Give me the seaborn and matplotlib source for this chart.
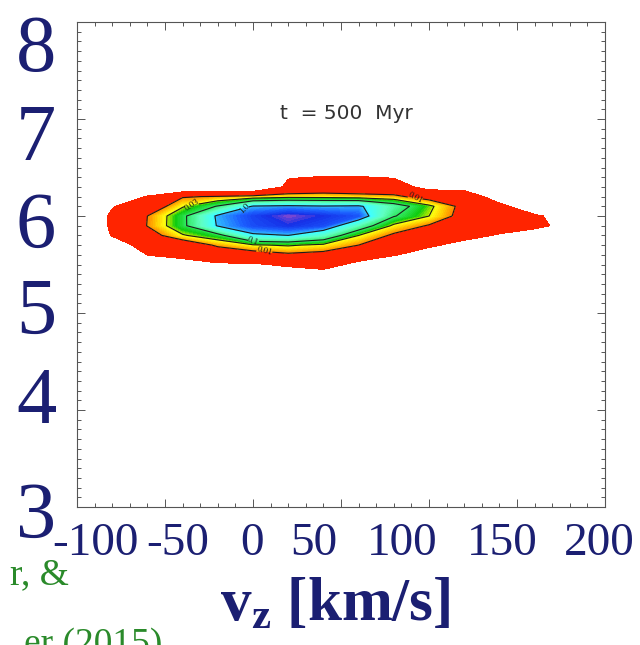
import numpy as np
import matplotlib
matplotlib.use("Agg")
import matplotlib.pyplot as plt
from matplotlib.colors import LinearSegmentedColormap
from matplotlib.ticker import MultipleLocator
from matplotlib.transforms import ScaledTranslation
import seaborn as sns

# ---- data -------------------------------------------------------------
vz_grid = [-100, -80, -60, -40, -20, 0, 20, 40, 60, 80, 100, 120, 140, 160, 180]
logr_grid = [5.3, 5.4, 5.5, 5.6, 5.7, 5.8, 5.9, 6.0, 6.1, 6.2, 6.3, 6.4, 6.5]

# log10 of the normalised density, one row per logr_grid value (bottom -> top),
# one column per vz_grid value
log_density = [
    [-4, -4, -4, -4, -4, -4, -4, -4, -4, -4, -4, -4, -4, -4, -4],
    [-4, -4, -4, -4, -4, -4, -3.5, -3.3, -4, -4, -4, -4, -4, -4, -4],
    [-4, -4, -3.5, -3.3, -3.1, -3.1, -2.85, -2.7, -3.2, -3.5, -4, -4, -4, -4, -4],
    [-4, -4, -2.98, -2.8, -2.5, -2.3, -2.1, -2.2, -2.6, -2.95, -3.3, -4, -4, -4, -4],
    [-4, -3.5, -2.6, -2.5, -1.9, -1.57, -1.47, -1.62, -2.0, -2.6, -2.9, -3.2, -4, -4, -4],
    [-4, -2.95, -2.3, -1.57, -1.2, -0.1, 0.0, -0.48, -1.52, -2.1, -2.6, -2.8, -3.05, -3.3, -4],
    [-4, -2.85, -1.98, -1.14, 0.05, 0.45, 0.6, 0.45, -0.58, -1.62, -2.05, -2.5, -2.75, -2.85, -3.2],
    [-4, -2.85, -2.0, -1.14, 0.1, 0.5, 0.75, 0.6, 0.4, -0.96, -1.52, -2.25, -2.7, -2.9, -3.3],
    [-4, -3.05, -2.5, -1.57, -0.96, 0.05, 0.12, 0.05, 0.1, -0.67, -1.41, -2.2, -2.8, -3.5, -4],
    [-4, -3.6, -2.95, -2.05, -1.95, -1.81, -1.67, -1.69, -1.76, -1.86, -2.3, -2.5, -3.4, -4, -4],
    [-4, -4, -3.8, -4, -4, -4, -2.8, -2.55, -2.6, -2.6, -3.3, -3.3, -4, -4, -4],
    [-4, -4, -4, -4, -4, -4, -3.05, -2.95, -2.95, -3.05, -4, -4, -4, -4, -4],
    [-4, -4, -4, -4, -4, -4, -4, -4, -4, -4, -4, -4, -4, -4, -4],
]

contour_levels = [0.01, 0.03, 0.1, 1.0]
contour_labels = ["0.01", "0.03", "0.1", "1.0"]
floor_level = 0.001

x_ticks = [-100, -50, 0, 50, 100, 150, 200]
y_ticks = [3, 4, 5, 6, 7, 8]
snapshot_text = "t  = 500  Myr"

# ---- style ------------------------------------------------------------
sns.set_theme(style="ticks")
plt.rcParams["font.family"] = ["Liberation Serif", "DejaVu Serif"]
plt.rcParams["axes.unicode_minus"] = False
plt.rcParams["mathtext.fontset"] = "custom"
plt.rcParams["mathtext.rm"] = "Liberation Serif"
plt.rcParams["mathtext.bf"] = "Liberation Serif:bold"
plt.rcParams["mathtext.it"] = "Liberation Serif:italic"

navy = "#1b1f72"
green = "#2a8a2a"

vmin, vmax = -2.0, 0.8
anchors = [
    (-2.0, "#ff7e00"), (-1.78, "#ffc400"), (-1.56, "#ffff10"),
    (-1.46, "#9ee600"), (-1.30, "#10cc10"), (-1.0, "#30e860"),
    (-0.5, "#60ffc0"), (-0.05, "#40ffff"), (0.05, "#30bcff"),
    (0.35, "#1c60ff"), (0.62, "#1530e8"), (0.8, "#a050c8"),
]
rainbow = LinearSegmentedColormap.from_list(
    "density", [((v - vmin) / (vmax - vmin), c) for v, c in anchors])

fill_levels = np.r_[np.log10(floor_level), np.linspace(vmin, vmax, 70)]
mids = 0.5 * (fill_levels[1:] + fill_levels[:-1])
fill_colors = ["#ff2400"] + [rainbow((m - vmin) / (vmax - vmin)) for m in mids[1:]]

# ---- figure -----------------------------------------------------------
fig = plt.figure(figsize=(6.40, 6.45), dpi=100)
ax = fig.add_axes([77 / 640, 1 - 507 / 645, 528 / 640, 485 / 645])
ax.set_facecolor("white")

VZ, LR = np.meshgrid(vz_grid, logr_grid)
Z = np.array(log_density)

ax.contourf(VZ, LR, Z, levels=fill_levels, colors=fill_colors,
            antialiased=False)
lines = ax.contour(VZ, LR, Z, levels=np.log10(contour_levels),
                   colors="#1c1c1c", linewidths=0.8, linestyles="solid")
fmt = {lev: lab for lev, lab in zip(lines.levels, contour_labels)}
ax.clabel(lines, fmt=fmt, fontsize=6.5, inline=True, inline_spacing=1,
          manual=[(96, 6.22), (-36, 6.12), (-9, 6.10), (-1, 5.73), (8, 5.66)])

ax.set_xlim(-100, 200)
ax.set_ylim(3, 8)
ax.set_xticks(x_ticks)
ax.set_yticks(y_ticks)
ax.xaxis.set_minor_locator(MultipleLocator(10))
ax.yaxis.set_minor_locator(MultipleLocator(0.1))
ax.tick_params(which="both", direction="in", top=True, right=True,
               color="#555555", width=0.7)
ax.tick_params(which="major", length=6)
ax.tick_params(which="minor", length=3)
ax.tick_params(axis="x", which="major", pad=11, labelsize=34, labelcolor=navy)
ax.tick_params(axis="y", which="major", pad=15, labelsize=58, labelcolor=navy)
for side in ax.spines.values():
    side.set_color("#555555")
    side.set_linewidth(0.8)

# nudge the large tick labels the way they sit on the slide
x_shift_px = [18, 13, -1, -27, -27, -15, -6]
y_shift_px = [3, -15, -7, 4, 13, 21]
for lab, dx in zip(ax.get_xticklabels(), x_shift_px):
    lab.set_transform(lab.get_transform()
                      + ScaledTranslation(dx / 100, 0, fig.dpi_scale_trans))
for lab, dy in zip(ax.get_yticklabels(), y_shift_px):
    lab.set_transform(lab.get_transform()
                      + ScaledTranslation(0, -dy / 100, fig.dpi_scale_trans))

ax.set_xlabel(r"$\mathbf{v_z}$ [km/s]", fontsize=44, fontweight="bold",
              color=navy)
ax.xaxis.set_label_coords(0.49, -0.145)
ax.set_ylabel("")

ax.text(0.510, 0.812, snapshot_text, transform=ax.transAxes,
        ha="center", va="center", fontsize=14.5, color="#333333",
        family="DejaVu Sans")

fig.text(69 / 640, 1 - 584 / 645, "r, &", ha="right", va="baseline",
         fontsize=27, color=green)
fig.text(162 / 640, 1 - 654 / 645, "er (2015)", ha="right", va="baseline",
         fontsize=27, color=green)

fig.savefig("out.png", dpi=100, facecolor="white")
